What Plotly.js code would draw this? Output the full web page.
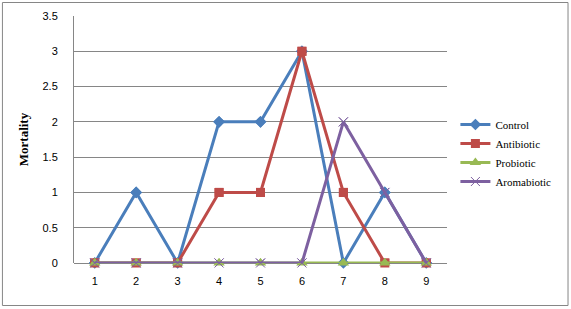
<!DOCTYPE html>
<html>
<head>
<meta charset="utf-8">
<script src="https://cdn.plot.ly/plotly-3.0.1.min.js"></script>
<style>html,body{margin:0;padding:0;background:#fff;}#chart{width:571px;height:309px;}</style>
</head>
<body>
<div id="chart"></div>
<script>
var categories = ["1","2","3","4","5","6","7","8","9"];
var control = [0,1,0,2,2,3,0,1,0];
var antibiotic = [0,0,0,1,1,3,1,0,0];
var probiotic = [0,0,0,0,0,0,0,0,0];
var aromabiotic = [0,0,0,0,0,0,2,1,0];
var yTicks = [0,0.5,1,1.5,2,2.5,3,3.5];

var series = [
  {name:"Control", y:control, color:"#4A7EBB", symbol:"diamond", size:9},
  {name:"Antibiotic", y:antibiotic, color:"#BE4B48", symbol:"square", size:9},
  {name:"Probiotic", y:probiotic, color:"#98B954", symbol:"triangle-up", size:10},
  {name:"Aromabiotic", y:aromabiotic, color:"#7D60A0", symbol:"x-thin-open", size:9}
];

var traces = [];
series.forEach(function(s){
  traces.push({
    x: categories, y: s.y, name: s.name, type: "scatter", mode: "lines+markers",
    legendgroup: s.name, cliponaxis: true,
    line: {color: s.color, width: 3},
    marker: {symbol: s.symbol, size: s.size, color: s.color, line: {color: s.color, width: s.symbol==="x-thin-open" ? 1 : 0}}
  });
  traces.push({
    x: categories, y: s.y, name: s.name, type: "scatter", mode: "markers",
    legendgroup: s.name, cliponaxis: false, showlegend: false, hoverinfo: "skip",
    marker: {symbol: s.symbol, size: s.size, color: s.color, line: {color: s.color, width: s.symbol==="x-thin-open" ? 1 : 0}}
  });
});

var px0 = 74, px1 = 446.6, py0 = 16, py1 = 263;
function fx(p){ return (p - px0) / (px1 - px0); }
function fy(p){ return (py1 - p) / (py1 - py0); }

var tickFont = {size: 11, family: "Liberation Sans, Arial, sans-serif", color: "#000"};

var layout = {
  width: 571, height: 309,
  margin: {l: 74, r: 571 - 446.6, t: 16, b: 46, pad: 0},
  paper_bgcolor: "#fff", plot_bgcolor: "#fff",
  showlegend: true,
  font: {family: "Liberation Sans, Arial, sans-serif", size: 11, color: "#000"},
  xaxis: {
    type: "category", range: [-0.5, 8.5], showgrid: false, zeroline: false,
    showline: false, ticks: "", ticklen: 0, ticklabelstandoff: 10,
    tickfont: tickFont, fixedrange: true
  },
  yaxis: {
    range: [0, 3.5], tickvals: yTicks, ticktext: yTicks.map(String),
    showgrid: true, gridcolor: "#868686", gridwidth: 1, zeroline: true, zerolinecolor: "#868686", zerolinewidth: 1,
    showline: true, linecolor: "#868686", linewidth: 1, ticks: "", ticklen: 0, ticklabelstandoff: 13,
    tickfont: tickFont,
    title: {text: "Mortality", font: {family: "Liberation Serif, Times New Roman, serif", size: 13, weight: "bold", color: "#000"}, standoff: 10},
    fixedrange: true
  },
  legend: {
    x: fx(455), y: fy(110), xanchor: "left", yanchor: "top",
    font: {family: "Liberation Serif, Times New Roman, serif", size: 11, color: "#000"},
    bgcolor: "rgba(0,0,0,0)", borderwidth: 0, tracegroupgap: 0, itemwidth: 30
  },
  shapes: [{
    type: "rect", xref: "paper", yref: "paper",
    x0: fx(2.5), x1: fx(567.5), y0: fy(305.5), y1: fy(2.5),
    line: {color: "#868686", width: 1}, fillcolor: "rgba(0,0,0,0)", layer: "below"
  }]
};

Plotly.newPlot("chart", traces, layout, {displayModeBar: false, staticPlot: true});
</script>
</body>
</html>
